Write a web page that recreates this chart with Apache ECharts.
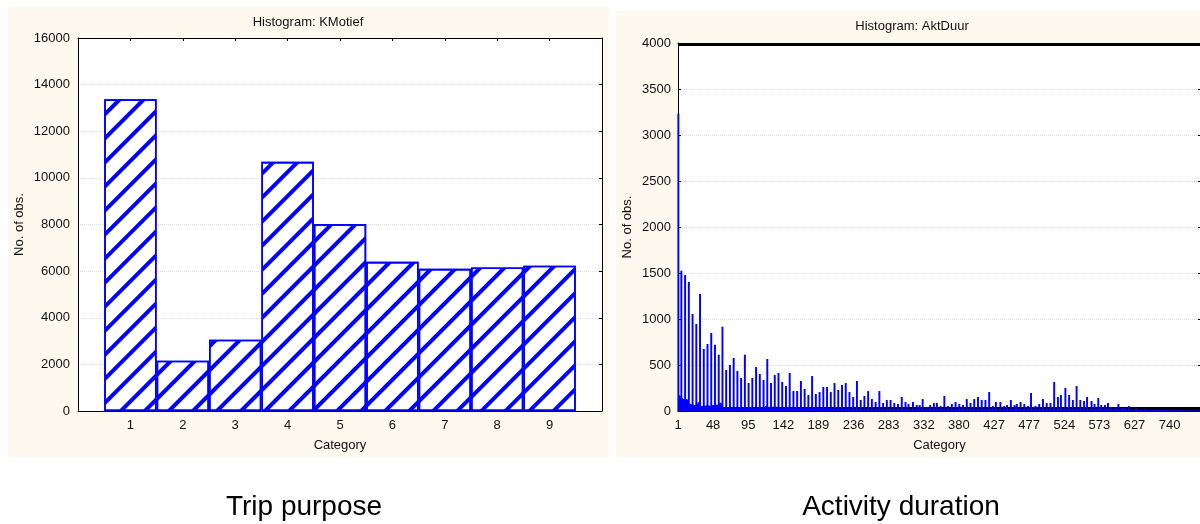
<!DOCTYPE html>
<html>
<head>
<meta charset="utf-8">
<script src="https://cdn.jsdelivr.net/npm/echarts@6/dist/echarts.min.js"></script>
<style>
html,body{margin:0;padding:0;background:#ffffff;overflow:hidden}
#c{width:1200px;height:524px}
</style>
</head>
<body>
<div id="c"></div>
<script>
// ---- Left histogram: KMotief (trip purpose) ----
const motiefCategories = [1, 2, 3, 4, 5, 6, 7, 8, 9];
const motiefCounts = [13370, 2160, 3060, 10690, 8020, 6400, 6100, 6160, 6230];

// ---- Right histogram: AktDuur (activity duration), one value per bin, in bin order ----
const durationTickLabels = ['1', '48', '95', '142', '189', '236', '283', '332', '380', '427', '477', '524', '573', '627', '740'];
const durationCounts = [
3230,170,160,130,1525,140,120,130,110,1478,
125,130,120,100,1402,80,75,70,65,1054,
70,60,65,55,946,70,80,95,60,1272,
55,50,55,50,674,55,50,60,55,728,
55,60,50,55,848,60,55,65,55,721,
60,70,65,60,612,75,90,80,70,917,
40,35,40,35,446,38,35,40,34,500,
36,40,35,38,576,34,36,32,35,435,
34,38,33,35,359,32,36,34,33,612,
35,33,36,32,304,34,33,40,38,359,
40,36,34,38,478,35,33,36,34,402,
32,35,33,34,337,36,34,55,50,565,
45,33,32,35,304,34,36,33,50,391,
48,34,32,33,413,35,32,33,31,315,
32,30,33,31,272,30,32,34,45,413,
30,28,31,29,217,28,30,27,29,217,
28,30,27,29,326,28,26,29,27,239,
27,29,26,28,174,27,28,26,29,380,
26,28,27,25,185,27,26,28,25,206,
26,25,27,26,261,25,27,24,26,261,
25,26,24,26,206,25,24,26,25,304,
24,25,23,25,228,24,26,23,24,283,
23,25,24,22,304,24,23,25,22,206,
23,22,24,23,152,22,24,21,23,326,
22,23,21,22,120,23,21,22,24,163,
21,22,20,22,217,21,23,20,22,130,
20,22,21,20,98,21,20,22,21,217,
20,21,19,20,87,21,19,20,22,120,
19,20,18,19,120,19,18,20,17,87,
18,17,19,18,76,17,18,16,19,152,
18,17,16,18,98,17,16,18,76,17,
16,18,17,16,98,17,15,17,16,65,
16,15,17,65,16,15,17,130,16,15,
17,16,43,15,17,16,15,65,16,14,
16,15,87,16,14,15,87,16,14,15,
16,54,15,14,16,15,163,14,16,15,
14,54,15,16,14,15,76,14,16,15,
14,98,15,14,16,15,76,14,15,16,
14,65,15,14,16,15,130,14,15,16,
14,87,15,14,16,15,130,14,15,16,
14,152,15,16,14,15,120,14,16,15,
14,120,15,16,14,15,206,14,15,16,
14,54,15,14,16,98,15,14,16,15,
14,98,15,16,14,15,54,14,15,16,
65,14,15,16,14,120,15,14,16,15,
65,14,15,76,14,16,15,14,98,15,
14,16,15,76,14,15,16,14,54,15,
16,14,196,15,16,14,15,16,54,14,
15,16,14,76,15,16,14,15,130,14,
16,15,14,87,15,16,14,15,87,14,
16,15,17,315,16,15,17,16,152,15,
17,16,174,15,17,16,15,17,250,16,
15,17,16,174,15,17,16,15,120,16,
17,15,16,272,15,17,16,15,120,16,
15,17,16,109,15,16,14,152,15,16,
14,15,16,109,14,15,16,76,14,15,
16,14,141,15,14,16,65,14,15,13,
14,65,13,15,14,87,13,14,15,43,
13,14,12,13,14,43,12,13,14,76,
12,13,12,14,33,12,13,11,33,12,
13,11,12,54,11,12,10,11,12,10,
11,12,10,33,11,10,12,10,11,9,
10,9,11,9,10,20,9,10,8,9,
9,8,10,8,9,8,16,9,8,7,
8,7,9,7,8,7,8,6,14,7,
7,6,8,6,7,6,7,5,6,5,
6,5,7,5,6,5,6,4,5,4,
5,4,6,4,5,4,5,3,4,3,
4,3,5,3,4,3,4,3,3,2,
3,2,4,2,3,2,3,2,2,1
];
const durationLabelStep = 47; // one tick label every 47 bins

const FONT = 'Liberation Sans, Arial, Helvetica, sans-serif';
const TXT = '#111111';
const CREAM = '#fdf9ee';
const BLUE = '#0000ff';

const chart = echarts.init(document.getElementById('c'), null, {renderer: 'canvas', width: 1200, height: 524});

const labelStyle = {color: TXT, fontFamily: FONT, fontSize: 13};
const nameStyle = {color: TXT, fontFamily: FONT, fontSize: 13};
const gridLine = {show: true, lineStyle: {color: '#dedede', type: 'dotted', width: 1}};
const plain = v => String(v);

const option = {
  backgroundColor: '#ffffff',
  animation: false,
  graphic: [
    {type: 'rect', z: -100, silent: true, shape: {x: 8, y: 7, width: 601, height: 450}, style: {fill: CREAM}},
    {type: 'rect', z: -100, silent: true, shape: {x: 616, y: 11, width: 600, height: 446}, style: {fill: CREAM}},
    {type: 'text', z: 10, x: 308, y: 22.5, style: {text: 'Histogram: KMotief', font: '13px ' + FONT, fill: TXT, align: 'center', verticalAlign: 'middle'}},
    {type: 'text', z: 10, x: 912, y: 26.7, style: {text: 'Histogram: AktDuur', font: '13px ' + FONT, fill: TXT, align: 'center', verticalAlign: 'middle'}},
    {type: 'text', z: 10, x: 304, y: 507, style: {text: 'Trip purpose', font: '28px ' + FONT, fill: '#000', align: 'center', verticalAlign: 'middle'}},
    {type: 'text', z: 10, x: 901, y: 507, style: {text: 'Activity duration', font: '28px ' + FONT, fill: '#000', align: 'center', verticalAlign: 'middle'}}
  ],
  grid: [
    {left: 78, top: 38, width: 524, bottom: 113, show: true, backgroundColor: '#ffffff', borderWidth: 0, outerBoundsMode: 'none', containLabel: false},
    {left: 678, top: 43, width: 523, bottom: 113, show: true, backgroundColor: '#ffffff', borderWidth: 0, outerBoundsMode: 'none', containLabel: false}
  ],
  xAxis: [
    {
      gridIndex: 0, type: 'value', position: 'bottom', min: 0, max: 10, interval: 1,
      name: 'Category', nameLocation: 'middle', nameGap: 28, nameTextStyle: nameStyle,
      axisLine: {show: true, onZero: false, lineStyle: {color: '#000', width: 1}},
      axisTick: {show: true, inside: true, length: 3, lineStyle: {color: '#000'}},
      axisLabel: Object.assign({margin: 8, formatter: v => motiefCategories.indexOf(v) >= 0 ? String(v) : ''}, labelStyle),
      splitLine: {show: false}
    },
    {
      gridIndex: 0, type: 'value', position: 'top', min: 0, max: 10, interval: 1,
      axisLine: {show: true, onZero: false, lineStyle: {color: '#000', width: 1}},
      axisTick: {show: true, inside: true, length: 3, lineStyle: {color: '#000'}},
      axisLabel: {show: false}, splitLine: {show: false}
    },
    {
      gridIndex: 1, type: 'value', position: 'bottom', min: 0, max: durationCounts.length, interval: durationLabelStep,
      name: 'Category', nameLocation: 'middle', nameGap: 28, nameTextStyle: nameStyle,
      axisLine: {show: true, onZero: false, lineStyle: {color: '#000', width: 1}},
      axisTick: {show: true, inside: true, length: 4, lineStyle: {color: '#000'}},
      minorTick: {show: true, splitNumber: durationLabelStep, length: 4, lineStyle: {color: '#000', width: 1}},
      axisLabel: Object.assign({margin: 8, formatter: v => {
        const k = Math.round(v / durationLabelStep);
        return (Math.abs(k * durationLabelStep - v) < 1e-6 && durationTickLabels[k] !== undefined) ? durationTickLabels[k] : '';
      }}, labelStyle),
      splitLine: {show: false}
    },
    {
      gridIndex: 1, type: 'value', position: 'top', min: 0, max: durationCounts.length, interval: durationLabelStep,
      axisLine: {show: true, onZero: false, lineStyle: {color: '#000', width: 1}},
      axisTick: {show: true, inside: true, length: 3, lineStyle: {color: '#000'}},
      minorTick: {show: true, splitNumber: durationLabelStep, length: 3, lineStyle: {color: '#000', width: 1}},
      axisLabel: {show: false}, splitLine: {show: false}
    }
  ],
  yAxis: [
    {
      gridIndex: 0, type: 'value', position: 'left', min: 0, max: 16000, interval: 2000,
      name: 'No. of obs.', nameLocation: 'middle', nameGap: 52, nameTextStyle: nameStyle,
      axisLine: {show: true, onZero: false, lineStyle: {color: '#000', width: 1}},
      axisTick: {show: false},
      axisLabel: Object.assign({margin: 8, formatter: plain}, labelStyle),
      splitLine: gridLine
    },
    {
      gridIndex: 0, type: 'value', position: 'right', min: 0, max: 16000, interval: 2000,
      axisLine: {show: true, onZero: false, lineStyle: {color: '#000', width: 1}},
      axisTick: {show: true, inside: true, length: 3, lineStyle: {color: '#000'}},
      axisLabel: {show: false}, splitLine: {show: false}
    },
    {
      gridIndex: 1, type: 'value', position: 'left', min: 0, max: 4000, interval: 500,
      name: 'No. of obs.', nameLocation: 'middle', nameGap: 44, nameTextStyle: nameStyle,
      axisLine: {show: true, onZero: false, lineStyle: {color: '#000', width: 1}},
      axisTick: {show: true, inside: true, length: 3, lineStyle: {color: '#000'}},
      axisLabel: Object.assign({margin: 7, formatter: plain}, labelStyle),
      splitLine: gridLine
    },
    {
      gridIndex: 1, type: 'value', position: 'right', min: 0, max: 4000, interval: 500,
      axisLine: {show: true, onZero: false, lineStyle: {color: '#000', width: 1}},
      axisTick: {show: true, inside: true, length: 3, lineStyle: {color: '#000'}},
      axisLabel: {show: false}, splitLine: {show: false}
    }
  ],
  series: [
    {
      type: 'bar', xAxisIndex: 0, yAxisIndex: 0,
      barWidth: '100%',
      data: motiefCategories.map((c, i) => [c, motiefCounts[i]]),
      itemStyle: {
        color: '#ffffff', borderColor: BLUE, borderWidth: 1.6,
        decal: {symbol: 'rect', symbolSize: 1, color: BLUE, dashArrayX: [1, 0], dashArrayY: [4, 13], rotation: -Math.PI / 4}
      }
    },
    {
      type: 'bar', xAxisIndex: 2, yAxisIndex: 2,
      barWidth: '260%',
      data: durationCounts.map((v, i) => [i + 0.5, v]),
      itemStyle: {color: BLUE}
    }
  ]
};
chart.setOption(option);
</script>
</body>
</html>
